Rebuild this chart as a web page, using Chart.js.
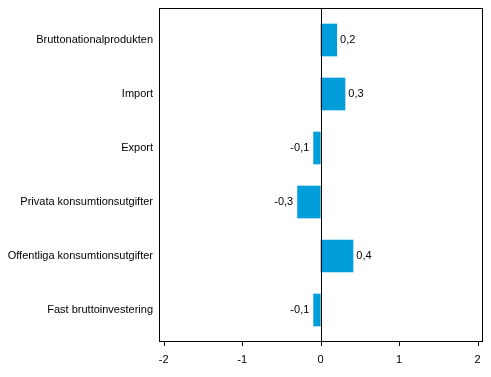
<!DOCTYPE html>
<html><head><meta charset="utf-8">
<script src="https://cdn.jsdelivr.net/npm/chart.js@4"></script>
<style>html,body{margin:0;padding:0;background:#fff}#w{width:491px;height:377px}</style>
</head><body><div id="w"><canvas id="c"></canvas></div>
<script>
const categories = ["Bruttonationalprodukten","Import","Export","Privata konsumtionsutgifter","Offentliga konsumtionsutgifter","Fast bruttoinvestering"];
const values = [0.21, 0.315, -0.093, -0.298, 0.417, -0.093];
const tickValues = [-2,-1,0,1,2];
const FONT = "'Liberation Sans', Arial, sans-serif";
const FRAME_EXTRA = 5;

const deco = {
  id:'deco',
  afterDatasetsDraw(chart){
    const ctx = chart.ctx, a = chart.chartArea, x = chart.scales.x;
    const top = Math.round(a.top - FRAME_EXTRA), bottom = Math.round(a.bottom + FRAME_EXTRA);
    const left = Math.round(a.left), right = Math.round(a.right);
    ctx.save();
    ctx.strokeStyle = '#000'; ctx.lineWidth = 1;
    const x0 = Math.round(x.getPixelForValue(0)) + 0.5;
    ctx.beginPath(); ctx.moveTo(x0, top); ctx.lineTo(x0, bottom); ctx.stroke();
    ctx.strokeRect(left + 0.5, top + 0.5, right - left - 1, bottom - top - 1);
    ctx.beginPath();
    tickValues.forEach(v => {
      const px = Math.round(x.getPixelForValue(v)) + 0.5;
      ctx.moveTo(px, bottom); ctx.lineTo(px, bottom + 4);
    });
    ctx.stroke();
    ctx.fillStyle = '#000'; ctx.font = '11px ' + FONT; ctx.textBaseline = 'middle';
    const meta = chart.getDatasetMeta(0);
    meta.data.forEach((bar, i) => {
      const v = values[i];
      const s = v.toFixed(1).replace('.', ',');
      if (v >= 0) { ctx.textAlign = 'left'; ctx.fillText(s, bar.x + 3, bar.y); }
      else { ctx.textAlign = 'right'; ctx.fillText(s, bar.x - 4, bar.y); }
    });
    ctx.restore();
  }
};

new Chart(document.getElementById('c'), {
  type: 'bar',
  data: { labels: categories, datasets: [{ data: values, backgroundColor: '#009ddb', barPercentage: 0.605, categoryPercentage: 1 }] },
  options: {
    indexAxis: 'y', responsive: true, maintainAspectRatio: false, animation: false,
    layout: { padding: { top: 13, right: 8, left: 0, bottom: 0 } },
    plugins: { legend: { display: false }, tooltip: { enabled: false } },
    scales: {
      x: {
        min: -2.06, max: 2.07,
        afterBuildTicks(s){ s.ticks = tickValues.map(v => ({ value: v })); },
        afterFit(s){ s.height = 40; s.paddingLeft = 0; s.paddingRight = 0; },
        grid: { display: false, drawTicks: false },
        border: { display: false },
        ticks: { color: '#000', font: { family: FONT, size: 11 }, padding: 16, maxRotation: 0, callback: v => String(v) }
      },
      y: {
        afterFit(s){ s.width = 159; s.paddingTop = 0; s.paddingBottom = 0; },
        grid: { display: false, drawTicks: false },
        border: { display: false },
        ticks: { color: '#000', font: { family: FONT, size: 11 }, padding: 6 }
      }
    }
  },
  plugins: [deco]
});
</script></body></html>
